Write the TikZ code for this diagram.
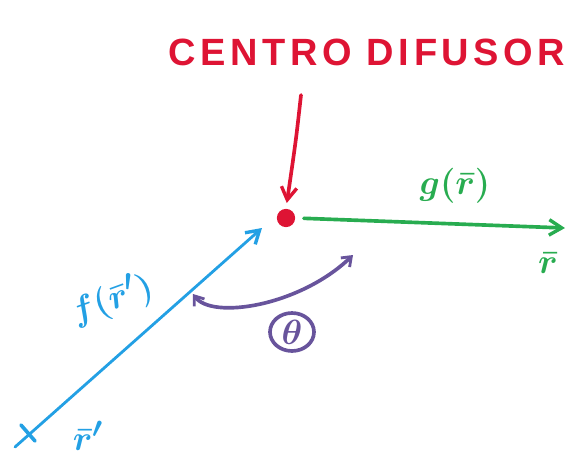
\documentclass[tikz,border=0pt]{standalone}
\usepackage{fontspec}
\newfontfamily\handfont[LetterSpace=12]{Liberation Sans}
\usetikzlibrary{arrows.meta,shapes.geometric}

\definecolor{penred}{RGB}{222,20,52}
\definecolor{penblue}{RGB}{35,160,228}
\definecolor{pengreen}{RGB}{40,172,80}
\definecolor{penpurple}{RGB}{104,84,156}

\begin{document}
\begin{tikzpicture}[
    x=0.025cm, y=-0.025cm,
    pen/.style={line width=2.6pt, line cap=round},
    tip/.style={-{Straight Barb[length=9pt,width=11pt,line width=2.4pt]}},
    lbl/.style={font=\fontsize{30}{32}\selectfont\boldmath, inner sep=1pt}
]
\useasboundingbox (0,0) rectangle (574,462);

% ---------- scattering centre ----------
\node[circle, fill=penred, inner sep=0pt, minimum size=13pt] (c) at (286,218) {};
\node[penred, font=\handfont\bfseries\fontsize{27}{30}\selectfont] (title) at (367,52) {CENTRO DIFUSOR};
\coordinate (rtop) at (301,95);
\draw[pen, penred, tip, shorten >=4pt] (rtop) .. controls (296,140) .. (c.north);

% ---------- outgoing wave ----------
\coordinate (gend) at (565,228);
\draw[pen, pengreen, tip, shorten <=6pt] (c.east) -- (gend);
\node[lbl, pengreen] (g) at (455,186) {$g(\bar{r})$};
\node[lbl, pengreen] (r) at (548,263) {$\bar{r}$};

% ---------- incoming wave ----------
\coordinate (bstart) at (15,447);
\coordinate (bend) at (262,228);
\draw[pen, penblue, tip, line width=2pt] (bstart) -- (bend);
\coordinate (tka) at (21,425);
\coordinate (tkb) at (35,441);
\draw[pen, penblue] (tka) -- (tkb);
\node[lbl, penblue, rotate=20] (f) at (112,300) {$f(\bar{r}')$};
\node[lbl, penblue] (rp) at (88,436) {$\bar{r}'$};

% ---------- angle ----------
\coordinate (aleft) at (193,294);
\coordinate (aright) at (353,255);
\draw[pen, penpurple, {Straight Barb[length=6pt,width=9pt,line width=2pt]}-{Straight Barb[length=6pt,width=9pt,line width=2pt]}]
  (aleft) .. controls (212,320) and (300,306) .. (aright);
\node[ellipse, draw=penpurple, pen, text=penpurple, lbl, inner sep=0pt,
      minimum width=1.1cm, minimum height=0.95cm] (th) at (292,332) {$\theta$};

\end{tikzpicture}
\end{document}
